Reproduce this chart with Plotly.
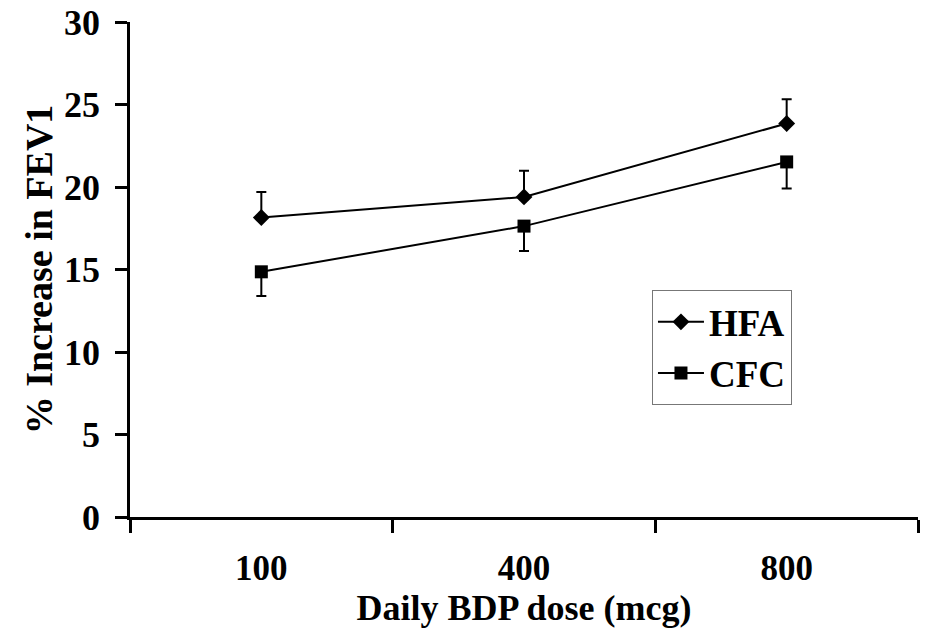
import plotly.graph_objects as go

doses = ["100", "400", "800"]
hfa_values = [18.15, 19.40, 23.85]
hfa_err_plus = [1.55, 1.58, 1.47]
cfc_values = [14.86, 17.63, 21.52]
cfc_err_minus = [1.47, 1.51, 1.61]
y_ticks = [0, 5, 10, 15, 20, 25, 30]

FONT = dict(family="Liberation Serif", weight="bold", color="black")

fig = go.Figure()
fig.add_trace(go.Scatter(
    x=doses, y=hfa_values, name="HFA", mode="lines+markers",
    line=dict(color="black", width=2),
    marker=dict(symbol="diamond", size=13, color="black"),
    error_y=dict(type="data", symmetric=False, array=hfa_err_plus,
                 arrayminus=[0] * len(hfa_values), color="black",
                 thickness=2, width=5),
))
fig.add_trace(go.Scatter(
    x=doses, y=cfc_values, name="CFC", mode="lines+markers",
    line=dict(color="black", width=2),
    marker=dict(symbol="square", size=13, color="black"),
    error_y=dict(type="data", symmetric=False, array=[0] * len(cfc_values),
                 arrayminus=cfc_err_minus, color="black",
                 thickness=2, width=5),
))

fig.update_layout(
    width=928, height=633,
    margin=dict(l=130, r=10, t=22, b=116),
    plot_bgcolor="white", paper_bgcolor="white",
    font=dict(size=36, **FONT),
    showlegend=True,
    legend=dict(
        x=0.6624, y=0.458, xanchor="left", yanchor="top",
        bordercolor="#777777", borderwidth=1, bgcolor="white",
        font=dict(size=37, **FONT), itemwidth=46,
        entrywidth=156, entrywidthmode="pixels",
        tracegroupgap=0,
    ),
    xaxis=dict(
        type="category", range=[-0.5, 2.5], automargin=False,
        showline=True, linecolor="black", linewidth=2.5,
        ticks="outside", ticklen=13, tickwidth=2.5, tickcolor="black",
        tickson="boundaries", showgrid=False, zeroline=False,
        ticklabelstandoff=18,
        tickfont=dict(size=35, **FONT),
        title=dict(text="Daily BDP dose (mcg)", font=dict(size=36, **FONT), standoff=0),
    ),
    yaxis=dict(
        range=[0, 30], tickvals=y_ticks, automargin=False,
        showline=True, linecolor="black", linewidth=2.5,
        ticks="outside", ticklen=12, tickwidth=2.5, tickcolor="black",
        showgrid=False, zeroline=False,
        ticklabelstandoff=8,
        tickfont=dict(size=36, **FONT),
        title=dict(text="% Increase in FEV1", font=dict(size=38, **FONT), standoff=0),
    ),
)

fig.write_html("out.html")
